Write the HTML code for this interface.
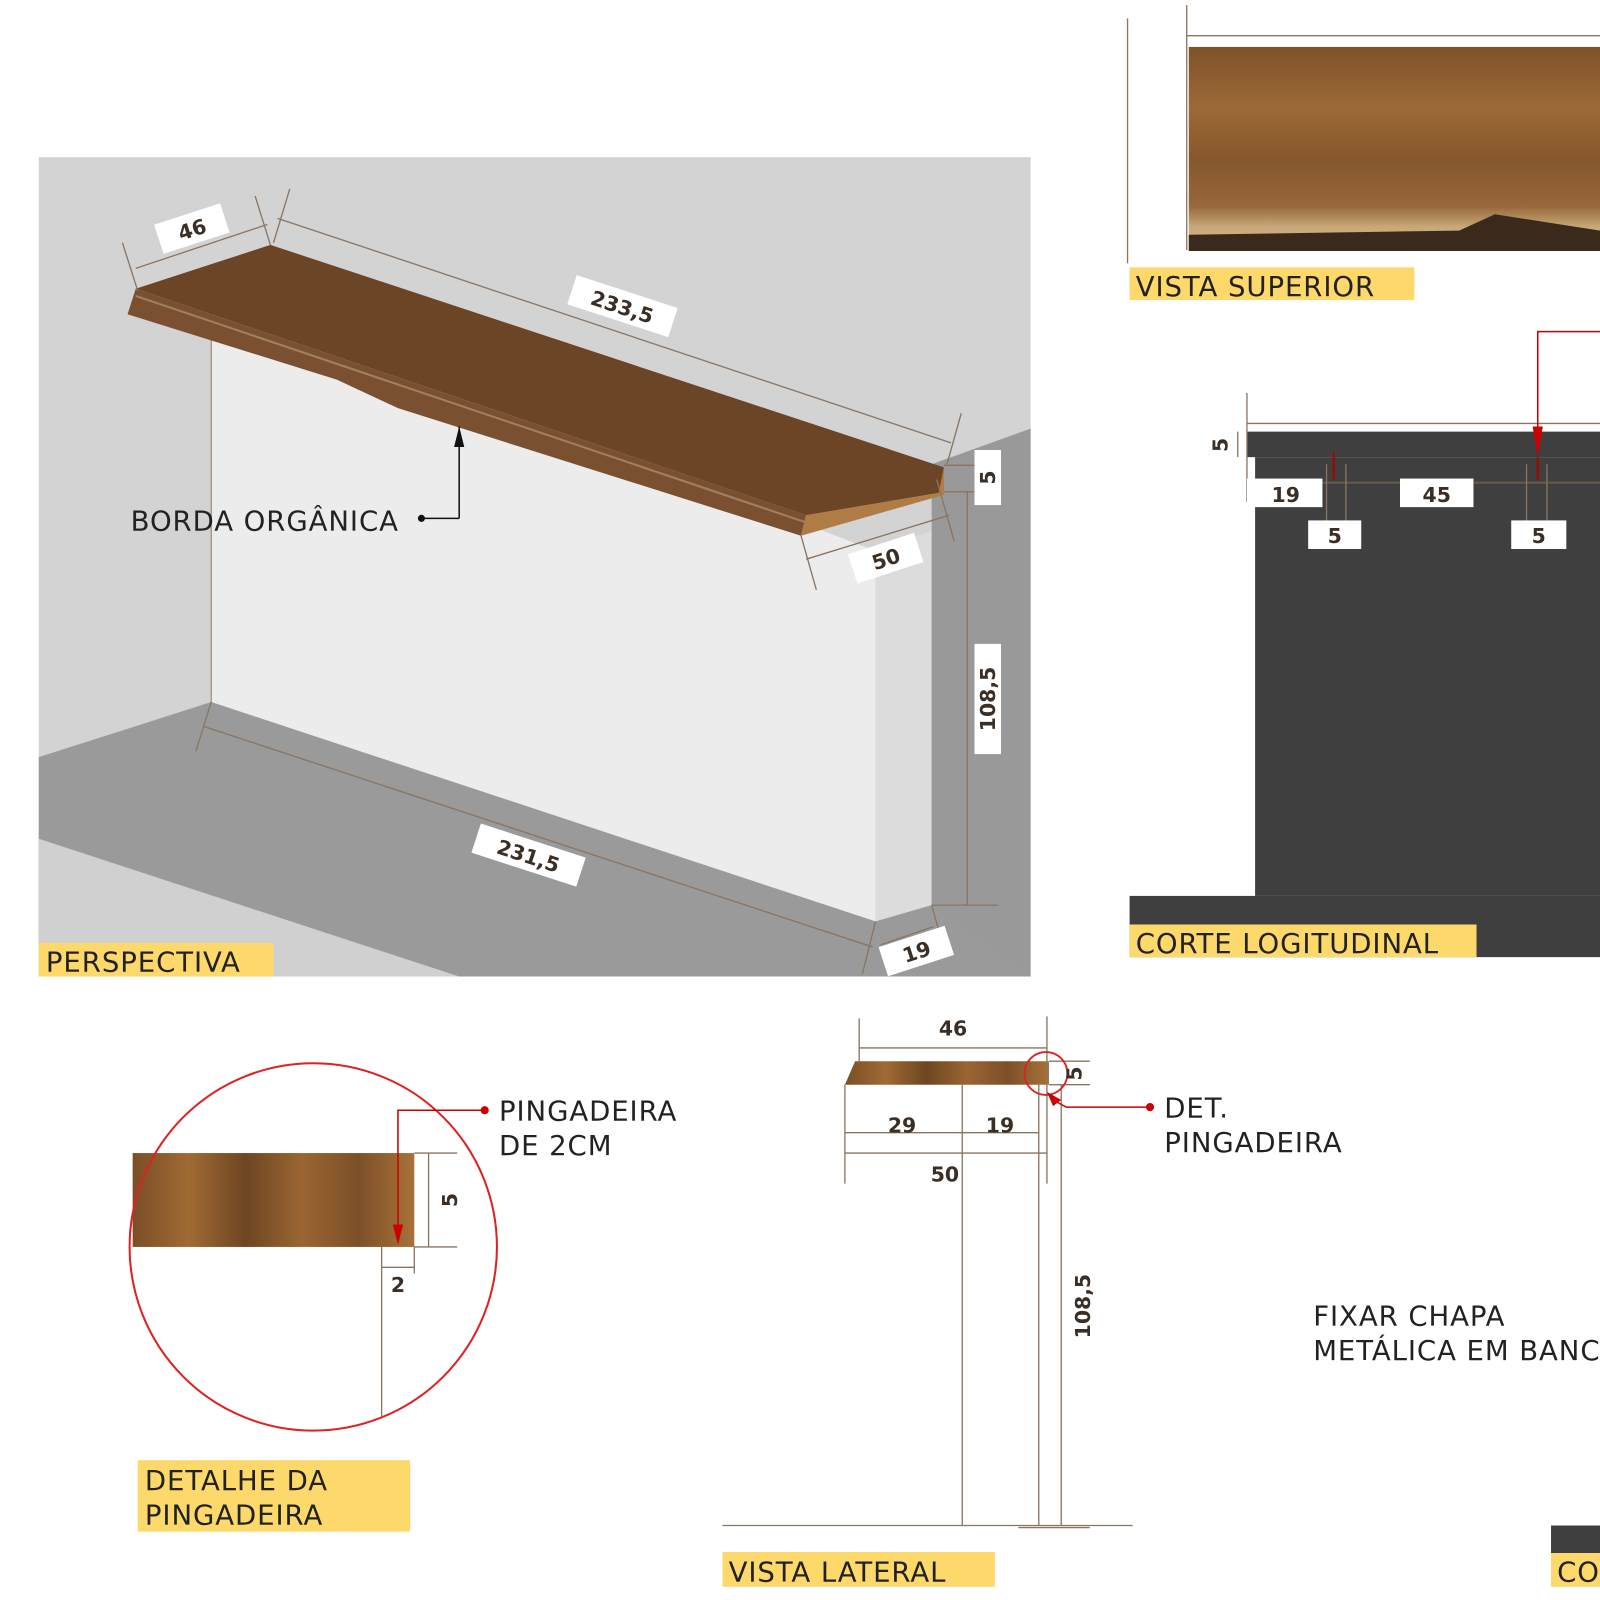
<!DOCTYPE html>
<html><head><meta charset="utf-8"><style>
html,body{margin:0;padding:0;background:#fff}
svg{display:block}
text{font-family:"DejaVu Sans","Liberation Sans",sans-serif}
.lbl{font-size:27px;fill:#222;letter-spacing:0.9px}
.dim{font-size:20px;font-weight:bold;fill:#3a2e25}
.dl{stroke:#8a7560;stroke-width:1.3;fill:none}
</style></head><body>
<svg width="1600" height="1600" viewBox="0 0 1568 1568" xmlns="http://www.w3.org/2000/svg">
<defs>
<linearGradient id="wood" x1="0" y1="0" x2="0" y2="1">
<stop offset="0" stop-color="#7e5228"/><stop offset="0.3" stop-color="#9c6a38"/><stop offset="0.55" stop-color="#85572c"/><stop offset="0.78" stop-color="#96683a"/><stop offset="0.88" stop-color="#c8a677"/><stop offset="1" stop-color="#d9bb8c"/>
</linearGradient>
<linearGradient id="wood2" x1="0" y1="0" x2="1" y2="0">
<stop offset="0" stop-color="#7a4e26"/><stop offset="0.2" stop-color="#a06a34"/><stop offset="0.4" stop-color="#6e4622"/><stop offset="0.6" stop-color="#9a6532"/><stop offset="0.8" stop-color="#7c5028"/><stop offset="1" stop-color="#a87238"/>
</linearGradient>
</defs>
<!-- PERSPECTIVE -->
<rect x="38" y="154" width="972" height="803" fill="#d3d3d3"/>
<polygon points="207,290 858,540 858,903 207,688" fill="#ececec"/>
<polygon points="858,540 913,520 913,887 858,903" fill="#dcdcdc"/>
<polygon points="913,455 1010,420 1010,957 913,957" fill="#999"/>
<polygon points="38,742 207,688 858,903 913,887 1010,957 38,957" fill="#9a9a9a"/>
<polygon points="38,822 450,957 38,957" fill="#d0d0d0"/>
<line x1="207" y1="290" x2="207" y2="688" stroke="#8a7a6a" stroke-width="1"/>
<polygon points="133,283 265,240 925,458 920,483 790,505" fill="#6b4526"/>
<polygon points="125,308 133,283 790,505 785,525 390,400 330,372" fill="#7a5030"/>
<polygon points="790,505 920,483 925,458 925,485 785,525" fill="#b07c45"/>
<line x1="133" y1="290" x2="790" y2="512" stroke="#a08060" stroke-width="2"/>
<g class="dl">
<line x1="133" y1="263" x2="262" y2="220"/><line x1="120" y1="238" x2="135" y2="285"/><line x1="250" y1="192" x2="265" y2="240"/>
<line x1="272" y1="214" x2="932" y2="434"/><line x1="284" y1="185" x2="268" y2="238"/><line x1="942" y1="405" x2="928" y2="455"/>
<line x1="790" y1="548" x2="930" y2="505"/><line x1="785" y1="525" x2="800" y2="578"/><line x1="918" y1="470" x2="935" y2="530"/>
<line x1="925" y1="456" x2="978" y2="456"/><line x1="925" y1="482" x2="978" y2="482"/>
<line x1="948" y1="482" x2="948" y2="887"/><line x1="913" y1="887" x2="978" y2="887"/>
<line x1="200" y1="712" x2="855" y2="928"/><line x1="207" y1="688" x2="192" y2="736"/>
<line x1="863" y1="926" x2="915" y2="908"/><line x1="858" y1="903" x2="845" y2="955"/><line x1="913" y1="887" x2="925" y2="930"/>
</g>
<line x1="450" y1="418" x2="450" y2="508" stroke="#111" stroke-width="1.5"/><line x1="450" y1="508" x2="413" y2="508" stroke="#111" stroke-width="1.5"/>
<polygon points="450,418 445,438 455,438" fill="#111"/><circle cx="413" cy="508" r="3.5" fill="#111"/>
<text x="128" y="520" class="lbl">BORDA ORGÂNICA</text>
<g transform="translate(188,224) rotate(-18)"><rect x="-34" y="-15" width="68" height="30" fill="#fff"/><text text-anchor="middle" y="8" class="dim">46</text></g>
<g transform="translate(610,300) rotate(18)"><rect x="-52" y="-15" width="104" height="30" fill="#fff"/><text text-anchor="middle" y="8" class="dim">233,5</text></g>
<g transform="translate(868,547) rotate(-18)"><rect x="-34" y="-15" width="68" height="30" fill="#fff"/><text text-anchor="middle" y="8" class="dim">50</text></g>
<g transform="translate(968,468) rotate(-90)"><rect x="-27" y="-13" width="54" height="26" fill="#fff"/><text text-anchor="middle" y="7" class="dim">5</text></g>
<g transform="translate(968,685) rotate(-90)"><rect x="-54" y="-13" width="108" height="26" fill="#fff"/><text text-anchor="middle" y="7" class="dim">108,5</text></g>
<g transform="translate(518,838) rotate(18)"><rect x="-54" y="-15" width="108" height="30" fill="#fff"/><text text-anchor="middle" y="8" class="dim">231,5</text></g>
<g transform="translate(898,932) rotate(-18)"><rect x="-34" y="-15" width="68" height="30" fill="#fff"/><text text-anchor="middle" y="8" class="dim">19</text></g>
<rect x="38" y="924" width="230" height="33" fill="#fdd86a"/><text x="45" y="952" class="lbl" fill="#333">PERSPECTIVA</text>
<!-- VISTA SUPERIOR -->
<rect x="1165" y="46" width="403" height="200" fill="url(#wood)"/>
<polygon points="1165,230 1430,226 1465,210 1568,226 1568,246 1165,246" fill="#3a2a1c"/>
<line x1="1105" y1="18" x2="1105" y2="258" class="dl"/><line x1="1163" y1="5" x2="1163" y2="245" class="dl"/>
<line x1="1163" y1="35" x2="1568" y2="35" class="dl"/>
<rect x="1107" y="262" width="279" height="32" fill="#fdd86a"/><text x="1113" y="290" class="lbl" fill="#333">VISTA SUPERIOR</text>
<!-- CORTE -->
<rect x="1222" y="423" width="346" height="25" fill="#3f3f3f"/>
<rect x="1230" y="448" width="338" height="430" fill="#3f3f3f"/>
<rect x="1107" y="878" width="461" height="60" fill="#3f3f3f"/>
<line x1="1230" y1="473" x2="1568" y2="473" stroke="#6a5a48" stroke-width="2"/>
<g class="dl">
<line x1="1222" y1="385" x2="1222" y2="492"/><line x1="1222" y1="415" x2="1568" y2="415"/><line x1="1213" y1="423" x2="1213" y2="448"/>
<line x1="1300" y1="455" x2="1300" y2="515"/><line x1="1319" y1="455" x2="1319" y2="515"/>
<line x1="1496" y1="455" x2="1496" y2="515"/><line x1="1516" y1="455" x2="1516" y2="515"/>
</g>
<line x1="1307" y1="443" x2="1307" y2="470" stroke="#a00" stroke-width="2"/>
<polyline points="1568,325 1507,325 1507,445" fill="none" stroke="#c00" stroke-width="1.5"/>
<polygon points="1502,418 1512,418 1507,448" fill="#c00"/>
<line x1="1507" y1="448" x2="1507" y2="470" stroke="#a00" stroke-width="2"/>
<text transform="translate(1203,436) rotate(-90)" text-anchor="middle" class="dim">5</text>
<rect x="1222" y="469" width="74" height="28" fill="#fff"/><text x="1260" y="492" text-anchor="middle" class="dim">19</text>
<rect x="1372" y="469" width="72" height="28" fill="#fff"/><text x="1408" y="492" text-anchor="middle" class="dim">45</text>
<rect x="1282" y="510" width="52" height="28" fill="#fff"/><text x="1308" y="532" text-anchor="middle" class="dim">5</text>
<rect x="1481" y="510" width="54" height="28" fill="#fff"/><text x="1508" y="532" text-anchor="middle" class="dim">5</text>
<rect x="1107" y="906" width="340" height="32" fill="#fdd86a"/><text x="1113" y="934" class="lbl" fill="#333">CORTE LOGITUDINAL</text>
<!-- DETALHE -->
<rect x="130" y="1130" width="276" height="92" fill="url(#wood2)"/>
<circle cx="307" cy="1222" r="180" fill="none" stroke="#d22" stroke-width="2"/>
<g class="dl"><line x1="406" y1="1130" x2="448" y2="1130"/><line x1="406" y1="1222" x2="448" y2="1222"/><line x1="420" y1="1130" x2="420" y2="1222"/>
<line x1="374" y1="1222" x2="374" y2="1388"/><line x1="406" y1="1222" x2="406" y2="1248"/><line x1="374" y1="1242" x2="406" y2="1242"/></g>
<polyline points="475,1088 390,1088 390,1215" fill="none" stroke="#c00" stroke-width="1.5"/>
<polygon points="385,1200 395,1200 390,1220" fill="#c00"/><circle cx="475" cy="1088" r="4" fill="#c00"/>
<text transform="translate(448,1176) rotate(-90)" text-anchor="middle" class="dim">5</text>
<text x="390" y="1266" text-anchor="middle" class="dim">2</text>
<text x="489" y="1098" class="lbl">PINGADEIRA</text><text x="489" y="1132" class="lbl">DE 2CM</text>
<rect x="135" y="1431" width="267" height="70" fill="#fdd86a"/>
<text x="142" y="1460" class="lbl" fill="#333">DETALHE DA</text><text x="142" y="1494" class="lbl" fill="#333">PINGADEIRA</text>
<!-- VISTA LATERAL -->
<polygon points="838,1040 1028,1040 1028,1063 828,1063" fill="url(#wood2)"/>
<g class="dl">
<line x1="842" y1="998" x2="842" y2="1040"/><line x1="1026" y1="996" x2="1026" y2="1160"/><line x1="842" y1="1027" x2="1026" y2="1027"/>
<line x1="828" y1="1063" x2="828" y2="1160"/><line x1="828" y1="1130" x2="1026" y2="1130"/>
<line x1="943" y1="1063" x2="943" y2="1495"/><line x1="1018" y1="1063" x2="1018" y2="1495"/><line x1="1040" y1="1063" x2="1040" y2="1495"/>
<line x1="1028" y1="1040" x2="1068" y2="1040"/><line x1="1028" y1="1063" x2="1068" y2="1063"/>
<line x1="828" y1="1110" x2="1018" y2="1110"/>
<line x1="708" y1="1495" x2="1110" y2="1495"/><line x1="998" y1="1497" x2="1068" y2="1497"/>
</g>
<circle cx="1025" cy="1052" r="21" fill="none" stroke="#d22" stroke-width="1.8"/>
<polyline points="1127,1085 1045,1085 1032,1078" fill="none" stroke="#c00" stroke-width="1.5"/>
<polygon points="1026,1070 1040,1078 1032,1084" fill="#c00"/><circle cx="1127" cy="1085" r="4" fill="#c00"/>
<text x="934" y="1015" text-anchor="middle" class="dim">46</text>
<text transform="translate(1060,1052) rotate(-90)" text-anchor="middle" class="dim">5</text>
<text x="884" y="1110" text-anchor="middle" class="dim">29</text>
<text x="980" y="1110" text-anchor="middle" class="dim">19</text>
<text x="926" y="1158" text-anchor="middle" class="dim">50</text>
<text transform="translate(1068,1280) rotate(-90)" text-anchor="middle" class="dim">108,5</text>
<text x="1141" y="1095" class="lbl">DET.</text><text x="1141" y="1129" class="lbl">PINGADEIRA</text>
<rect x="708" y="1521" width="267" height="34" fill="#fdd86a"/><text x="714" y="1550" class="lbl" fill="#333">VISTA LATERAL</text>
<!-- FIXAR -->
<text x="1287" y="1299" class="lbl">FIXAR CHAPA</text><text x="1287" y="1333" class="lbl">METÁLICA EM BANCADA</text>
<rect x="1520" y="1495" width="48" height="27" fill="#3f3f3f"/>
<rect x="1520" y="1522" width="48" height="33" fill="#fdd86a"/><text x="1526" y="1550" class="lbl" fill="#333">CO</text>
</svg>
</body></html>
